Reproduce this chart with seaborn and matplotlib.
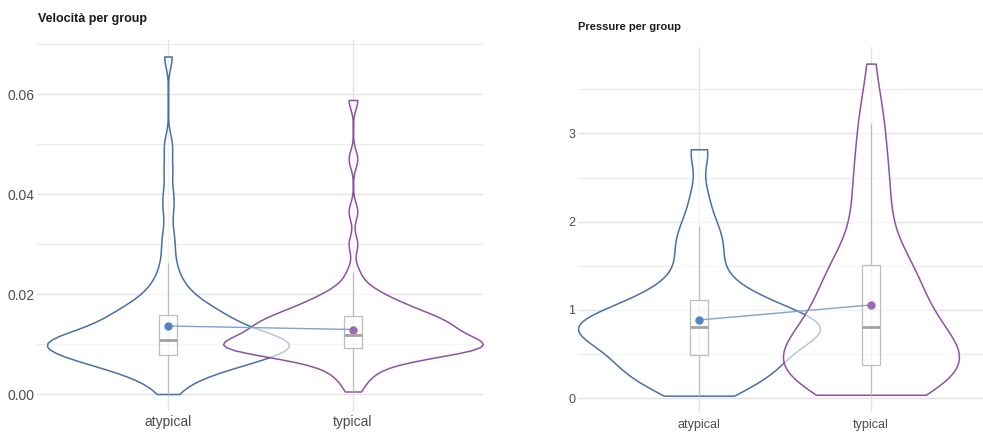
import numpy as np
import pandas as pd
import matplotlib
matplotlib.use("Agg")
import matplotlib.pyplot as plt
from matplotlib.ticker import FixedLocator
import seaborn as sns

# ---------------- data ----------------
groups = ["atypical", "typical"]
group_colors = ["#4870a6", "#8e52a0"]
mean_point_colors = ["#5585c0", "#9a6cb0"]
mean_line_color = "#7fa3cf"

vel_atypical = [
    0.0000, 0.0016,
    0.0029, 0.0035, 0.0041, 0.0046, 0.0050,
    0.0053, 0.0056, 0.0059, 0.0062, 0.0064, 0.0066, 0.0068, 0.0070, 0.0072, 0.0074,
    0.0075, 0.0076, 0.0077, 0.0079,
    0.0081, 0.0084, 0.0087, 0.0089, 0.0091, 0.0093, 0.0095, 0.0096, 0.0097, 0.0098,
    0.0099, 0.0100, 0.0101, 0.0102, 0.0103, 0.0104, 0.0105, 0.0106, 0.0107,
    0.0109,
    0.0110, 0.0111, 0.0112, 0.0114, 0.0116, 0.0118, 0.0121, 0.0124, 0.0127, 0.0130,
    0.0133, 0.0136, 0.0139, 0.0142, 0.0145, 0.0148, 0.0151, 0.0154, 0.0157,
    0.0160,
    0.0163, 0.0167, 0.0171, 0.0176, 0.0181, 0.0187, 0.0194, 0.0202, 0.0212, 0.0224,
    0.0240, 0.0262, 0.0292, 0.0322, 0.0368, 0.0402, 0.0450, 0.0498, 0.0675,
]
vel_typical = [
    0.0005,
    0.0025, 0.0036, 0.0045, 0.0053,
    0.0061, 0.0066, 0.0070, 0.0073, 0.0076, 0.0079, 0.0082, 0.0084,
    0.0085, 0.0086, 0.0087, 0.0088, 0.0089, 0.0090, 0.0091,
    0.0092,
    0.0093, 0.0094, 0.0095, 0.0096, 0.0097, 0.0098, 0.0099, 0.0100, 0.0101, 0.0102,
    0.0103, 0.0104, 0.0106, 0.0108, 0.0110, 0.0112, 0.0114, 0.0116, 0.0118,
    0.0120,
    0.0122, 0.0124, 0.0126, 0.0128, 0.0129, 0.0131, 0.0133, 0.0135, 0.0137, 0.0139,
    0.0140, 0.0142, 0.0144, 0.0146, 0.0148, 0.0150, 0.0151, 0.0153, 0.0155,
    0.0157,
    0.0160, 0.0163, 0.0166, 0.0169, 0.0172, 0.0175, 0.0178, 0.0182, 0.0186, 0.0190,
    0.0195, 0.0201, 0.0209, 0.0220, 0.0245, 0.0300, 0.0365, 0.0470, 0.0588,
]
pres_atypical = [
    0.03, 0.05, 0.08, 0.11, 0.14, 0.17, 0.20, 0.23, 0.26, 0.28,
    0.30, 0.32, 0.34, 0.36, 0.38, 0.40, 0.42, 0.44, 0.46, 0.48,
    0.50, 0.52, 0.54, 0.56, 0.58, 0.60, 0.62, 0.64, 0.66, 0.68,
    0.70, 0.71, 0.72, 0.73, 0.74, 0.75, 0.76, 0.77, 0.78, 0.80,
    0.81, 0.82, 0.83, 0.84, 0.85, 0.86, 0.87, 0.88, 0.89, 0.90,
    0.92, 0.94, 0.96, 0.98, 1.00, 1.02, 1.04, 1.06, 1.08, 1.11,
    1.12, 1.15, 1.18, 1.22, 1.26, 1.31, 1.37, 1.44, 1.52, 1.60,
    1.67, 1.74, 1.80, 1.87, 1.95, 2.05, 2.20, 2.38, 2.76, 2.82,
]
pres_typical = [
    0.04, 0.06, 0.08, 0.10, 0.12, 0.14, 0.16, 0.18, 0.20,
    0.22, 0.235, 0.25, 0.265, 0.28, 0.295, 0.31, 0.325, 0.34, 0.355, 0.37,
    0.38,
    0.40, 0.42, 0.44, 0.46, 0.48, 0.50, 0.52, 0.54, 0.56, 0.58,
    0.60, 0.62, 0.64, 0.66, 0.69, 0.72, 0.75, 0.78, 0.80,
    0.82,
    0.85, 0.88, 0.91, 0.94, 0.97, 1.01, 1.05, 1.09, 1.13, 1.17,
    1.21, 1.25, 1.28, 1.32, 1.36, 1.40, 1.44, 1.47, 1.50,
    1.53,
    1.56, 1.62, 1.70, 1.80, 1.90, 2.00, 2.10, 2.20, 2.30, 2.40,
    2.50, 2.60, 2.72, 2.85, 2.98, 3.12, 3.27, 3.40, 3.79,
]

# group means shown as connected dots
vel_means = [0.0136, 0.0129]
pres_means = [0.887, 1.057]

vel_ticks = [0.00, 0.02, 0.04, 0.06]
vel_minor = [0.01, 0.03, 0.05, 0.07]
vel_tick_labels = ["0.00", "0.02", "0.04", "0.06"]
pres_ticks = [0, 1, 2, 3]
pres_minor = [0.5, 1.5, 2.5, 3.5]
pres_tick_labels = ["0", "1", "2", "3"]
titles = ["Velocità per group", "Pressure per group"]

# ---------------- style ----------------
sns.set_theme(style="white")
plt.rcParams["font.family"] = ["Liberation Sans", "DejaVu Sans"]

W, H = 983, 434
fig = plt.figure(figsize=(W / 100, H / 100), dpi=100)


def px_axes(x0, y0, x1, y1):
    return fig.add_axes([x0 / W, 1 - y1 / H, (x1 - x0) / W, (y1 - y0) / H])


def nrd0(kde):
    x = np.asarray(kde.dataset).ravel()
    sd = np.std(x, ddof=1)
    q25, q75 = np.percentile(x, [25, 75])
    lo = min(sd, (q75 - q25) / 1.34)
    return 0.9 * lo * len(x) ** (-0.2) / sd


def panel(ax, a, t, means, widths, ticks, minor, ticklabels, xlim, ylim, fs, xpad):
    df = pd.DataFrame({"group": ["atypical"] * len(a) + ["typical"] * len(t),
                       "value": list(a) + list(t)})
    for g, col, w in zip(groups, group_colors, widths):
        n_before = len(ax.collections)
        sns.violinplot(data=df[df["group"] == g], x="group", y="value",
                       order=groups, color=col, fill=True, inner=None, cut=0,
                       width=w, bw_method=nrd0, density_norm="width",
                       linewidth=1.1, ax=ax)
        for coll in ax.collections[n_before:]:
            coll.set_facecolor((1, 1, 1, 0.6))
            coll.set_edgecolor(col)
            coll.set_linewidth(1.1)
    sns.boxplot(data=df, x="group", y="value", order=groups, width=0.1, fill=False,
                color="#bdbdbd", showfliers=False, showcaps=False, linewidth=0.9,
                medianprops={"color": "#a3a3a3", "linewidth": 2.0}, ax=ax)
    sns.pointplot(x=groups, y=means, order=groups, color=mean_line_color,
                  errorbar=None, markers="", linewidth=1.0, ax=ax)
    sns.pointplot(x=groups, y=means, hue=groups, order=groups, hue_order=groups,
                  palette=mean_point_colors, errorbar=None, markersize=4,
                  legend=False, ax=ax)

    ax.set_xlim(*xlim)
    ax.set_ylim(*ylim)
    ax.set_xlabel("")
    ax.set_ylabel("")
    ax.yaxis.set_major_locator(FixedLocator(ticks))
    ax.yaxis.set_minor_locator(FixedLocator(minor))
    ax.set_yticklabels(ticklabels)
    for s in ax.spines.values():
        s.set_visible(False)
    ax.set_axisbelow(True)
    ax.grid(which="major", axis="both", color="#e2e2e2", linewidth=1.0)
    ax.grid(which="minor", axis="y", color="#ebebeb", linewidth=0.8)
    ax.tick_params(axis="both", which="both", length=0, labelsize=fs,
                   labelcolor="#4d4d4d")
    ax.tick_params(axis="y", pad=2)
    ax.tick_params(axis="x", pad=xpad)


ax1 = px_axes(37, 39.5, 483, 411)
panel(ax1, vel_atypical, vel_typical, vel_means, (1.308, 1.405), vel_ticks,
      vel_minor, vel_tick_labels, (-0.708, 1.703), (-0.0034, 0.0709), 10, 3)

ax2 = px_axes(578, 47, 991, 412.3)
panel(ax2, pres_atypical, pres_typical, pres_means, (1.407, 1.023), pres_ticks,
      pres_minor, pres_tick_labels, (-0.7035, 1.698), (-0.1585, 3.978), 9, 5)

fig.text(38 / W, 1 - 22 / H, titles[0], fontsize=9, fontweight="bold",
         color="#1a1a1a", va="baseline", ha="left")
fig.text(578 / W, 1 - 30 / H, titles[1], fontsize=8, fontweight="bold",
         color="#1a1a1a", va="baseline", ha="left")

fig.savefig("out.png", dpi=100)
